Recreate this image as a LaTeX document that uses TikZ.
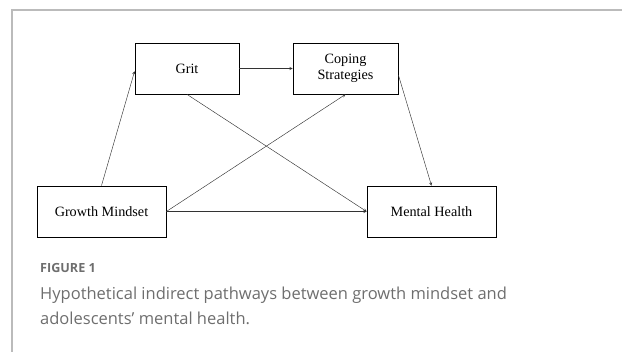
\documentclass[tikz,border=0pt]{standalone}
\usepackage{fontspec}
\setmainfont{Liberation Serif}
\newfontfamily\capfont{Open Sans}
\usepackage{tikz}

\definecolor{framegray}{HTML}{BBBBBB}
\definecolor{capgray}{HTML}{6E6E6E}

\begin{document}
\begin{tikzpicture}[x=1pt,y=-1pt, >=stealth, inner sep=0pt,
  var/.style={draw=black, line width=0.8pt, rectangle, minimum height=51pt, align=center, font=\fontsize{14.2}{15.5}\selectfont},
  path/.style={->, line width=0.45pt, draw=black!80}]
\useasboundingbox (0,0) rectangle (622,352);
% panel frame
\draw[framegray, line width=1.3pt] (12,352) -- (12,10) -- (622,10);
% variables
\node (grit) at (187,68.5) [var, minimum width=104pt] {Grit};
\node (coping) at (345.5,68.5) [var, minimum width=105pt] {Coping\\Strategies};
\node (growth) at (101.5,211.5) [var, minimum width=129pt] {Growth Mindset};
\node (mental) at (431.5,211.5) [var, minimum width=129pt] {Mental Health};
% paths
\draw[path] (growth.north) -- (grit.183);
\draw[path] (grit.east) -- (coping.west);
\draw[path] (grit.south) -- (mental.west);
\draw[path] (growth.east) -- (coping.south);
\draw[path] (growth.east) -- (mental.west);
\draw[path] (coping.-7) -- (mental.north);
% caption
\node (figlabel) at (40,273) [anchor=base west, text=capgray, font=\capfont\bfseries\fontsize{12.6}{14}\selectfont] {FIGURE 1};
\node (caption1) at (40,300) [anchor=base west, text=capgray, font=\capfont\fontsize{16.5}{20}\selectfont] {Hypothetical indirect pathways between growth mindset and};
\node (caption2) at (40,325) [anchor=base west, text=capgray, font=\capfont\fontsize{16.5}{20}\selectfont] {adolescents’ mental health.};
\end{tikzpicture}
\end{document}
